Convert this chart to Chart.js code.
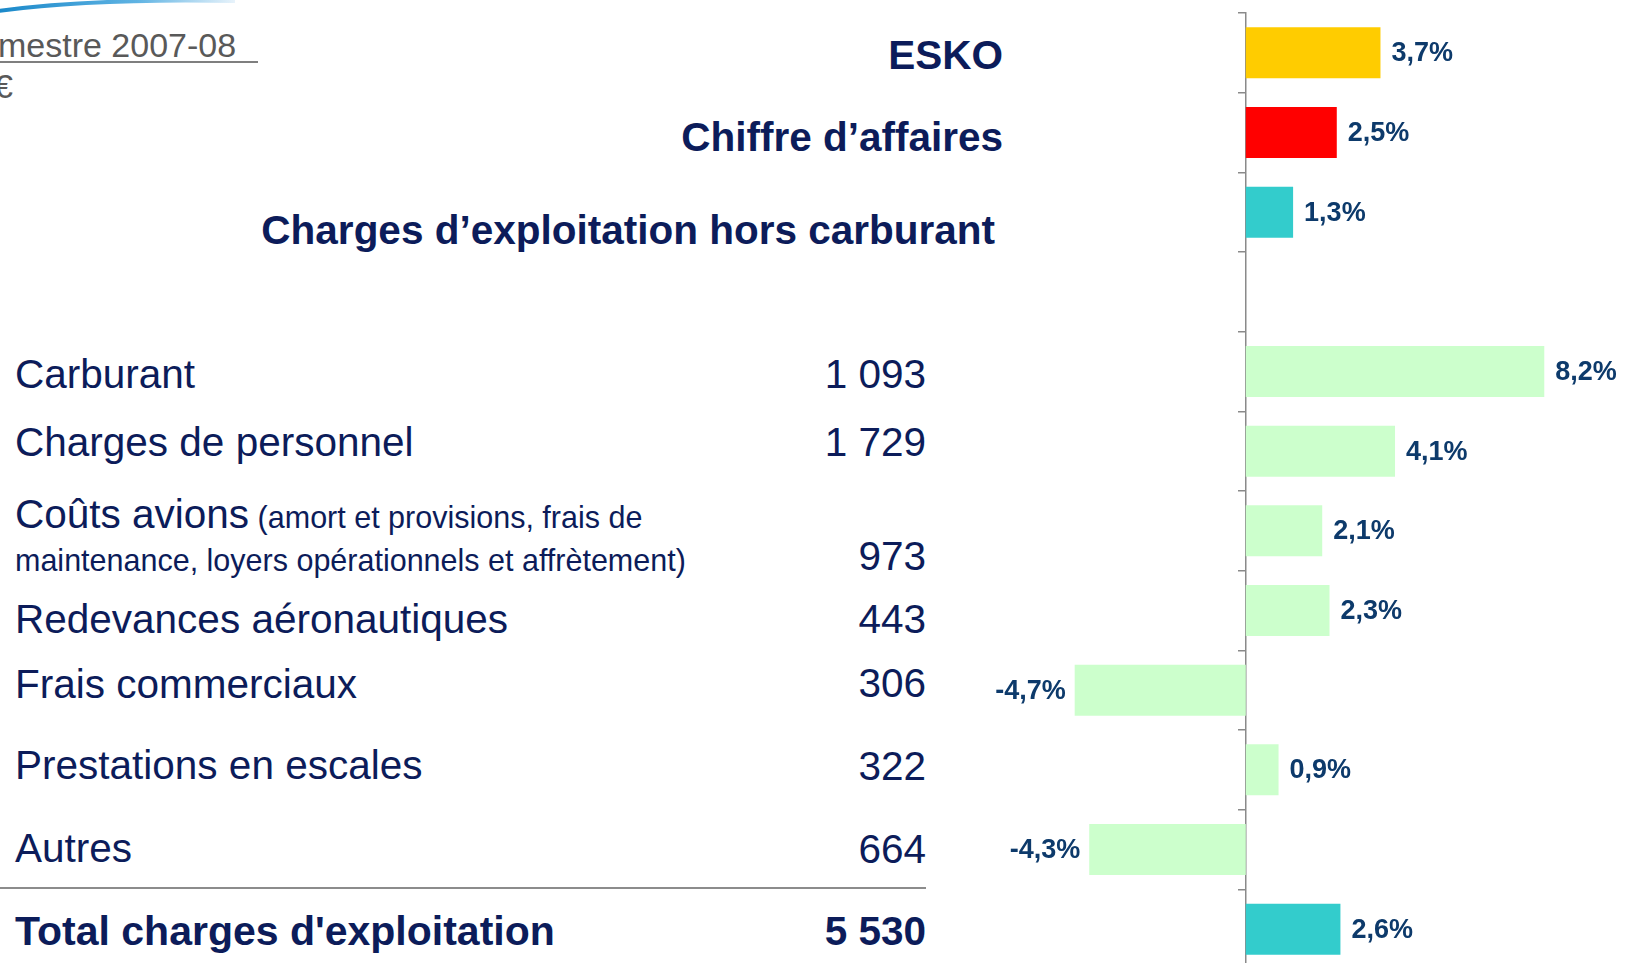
<!DOCTYPE html>
<html lang="fr">
<head>
<meta charset="utf-8">
<title>Charges d'exploitation</title>
<script src="https://cdn.jsdelivr.net/npm/chart.js@4/dist/chart.umd.min.js"></script>
<style>
  html, body { margin: 0; padding: 0; background: #fff; width: 1626px; height: 963px; overflow: hidden; }
  body { position: relative; font-family: "Liberation Sans", Arial, sans-serif; color: #0c1c5a; }
  .t { position: absolute; white-space: nowrap; font-size: 40.5px; line-height: 40px; }
  .b { font-weight: bold; }
  .r { text-align: right; }
  .small { font-size: 30.5px; }
  .grey { color: #595959; font-size: 34px; line-height: 34px; }
  #chartBox { position: absolute; left: 940px; top: 0; width: 688px; height: 970px; }
</style>
</head>
<body>

<!-- top-left decoration and period header -->
<svg style="position:absolute;left:0;top:0" width="260" height="20">
  <defs>
    <linearGradient id="sw" x1="0" x2="1" y1="0" y2="0">
      <stop offset="0" stop-color="#1686c8"/>
      <stop offset="0.6" stop-color="#5fb3e3"/>
      <stop offset="1" stop-color="#e8f3fb"/>
    </linearGradient>
  </defs>
  <path d="M -10 12 Q 90 -2 235 1" stroke="url(#sw)" stroke-width="4" fill="none"/>
</svg>
<div class="t grey" style="left:-2px; top:28px;">mestre 2007-08</div>
<div style="position:absolute; left:0; top:61px; width:258px; height:2px; background:#7f7f7f;"></div>
<div class="t grey" style="left:-6px; top:69px;">€</div>

<!-- headline rows -->
<div class="t b r" id="h0" style="right:623px; top:35px;"></div>
<div class="t b r" id="h1" style="right:623px; top:117px;"></div>
<div class="t b r" id="h2" style="right:631px; top:210px;"></div>

<!-- table rows -->
<div class="t" id="l0" style="left:15px; top:354px;"></div>
<div class="t" id="l1" style="left:15px; top:422px;"></div>
<div class="t" id="l2" style="left:15px; top:494px;"></div>
<div class="t small" id="l2b" style="left:15px; top:545px; line-height:30px;"></div>
<div class="t" id="l3" style="left:15px; top:599px;"></div>
<div class="t" id="l4" style="left:15px; top:664px;"></div>
<div class="t" id="l5" style="left:15px; top:745px;"></div>
<div class="t" id="l6" style="left:15px; top:828px;"></div>
<div class="t b" id="l7" style="left:15px; top:911px; font-size:41px;"></div>

<div class="t r" id="n0" style="right:700px; top:354px;"></div>
<div class="t r" id="n1" style="right:700px; top:422px;"></div>
<div class="t r" id="n2" style="right:700px; top:536px;"></div>
<div class="t r" id="n3" style="right:700px; top:599px;"></div>
<div class="t r" id="n4" style="right:700px; top:663px;"></div>
<div class="t r" id="n5" style="right:700px; top:746px;"></div>
<div class="t r" id="n6" style="right:700px; top:829px;"></div>
<div class="t b r" id="n7" style="right:700px; top:911px;"></div>

<div style="position:absolute; left:0; top:887px; width:926px; height:2px; background:#8c8c8c;"></div>

<div id="chartBox"><canvas id="chart" width="688" height="970"></canvas></div>

<script>
// Bar categories (top to bottom), the 4th one is the empty spacer row
const categories = [
  "ESKO",
  "Chiffre d’affaires",
  "Charges d’exploitation hors carburant",
  "",
  "Carburant",
  "Charges de personnel",
  "Coûts avions",
  "Redevances aéronautiques",
  "Frais commerciaux",
  "Prestations en escales",
  "Autres",
  "Total charges d'exploitation"
];

// Variation in %
const variations = [3.7, 2.5, 1.3, null, 8.2, 4.1, 2.1, 2.3, -4.7, 0.9, -4.3, 2.6];

// Amounts in M€ for the cost lines
const costLines = [
  "Carburant",
  "Charges de personnel",
  "Coûts avions",
  "Redevances aéronautiques",
  "Frais commerciaux",
  "Prestations en escales",
  "Autres",
  "Total charges d'exploitation"
];
const costAmounts = ["1 093", "1 729", "973", "443", "306", "322", "664", "5 530"];
const coutsAvionsDetail = ["(amort et provisions, frais de", "maintenance, loyers opérationnels et affrètement)"];

const barColors = [
  "#ffcc00", "#ff0000", "#33cccc", "#ffffff",
  "#ccffcc", "#ccffcc", "#ccffcc", "#ccffcc", "#ccffcc", "#ccffcc", "#ccffcc",
  "#33cccc"
];

// Fill in the text on the left
for (let i = 0; i < 3; i++) {
  document.getElementById("h" + i).textContent = categories[i];
}
costLines.forEach((name, i) => {
  document.getElementById("l" + i).textContent = name;
  document.getElementById("n" + i).textContent = costAmounts[i];
});
const detail = document.createElement("span");
detail.className = "small";
detail.textContent = " " + coutsAvionsDetail[0];
document.getElementById("l2").appendChild(detail);
document.getElementById("l2b").textContent = coutsAvionsDetail[1];

// Percent labels next to the bars
const valueLabels = {
  id: "valueLabels",
  afterDatasetsDraw(chart) {
    const ctx = chart.ctx;
    const meta = chart.getDatasetMeta(0);
    ctx.save();
    ctx.font = 'bold 27px "Liberation Sans", Arial, sans-serif';
    ctx.fillStyle = "#0d3a6b";
    ctx.textBaseline = "middle";
    meta.data.forEach((bar, i) => {
      const v = variations[i];
      if (v === null) return;
      const txt = v.toFixed(1).replace(".", ",") + "%";
      if (v >= 0) {
        ctx.textAlign = "left";
        ctx.fillText(txt, bar.x + 11, bar.y + 1);
      } else {
        ctx.textAlign = "right";
        ctx.fillText(txt, bar.x - 9, bar.y + 1);
      }
    });
    ctx.restore();
  }
};

new Chart(document.getElementById("chart"), {
  type: "bar",
  data: {
    labels: categories,
    datasets: [{
      data: variations,
      backgroundColor: barColors,
      borderWidth: 0,
      barPercentage: 0.64,
      categoryPercentage: 1
    }]
  },
  options: {
    indexAxis: "y",
    responsive: false,
    animation: false,
    devicePixelRatio: 1,
    layout: { padding: { top: 13, bottom: 1, left: 0, right: 0 } },
    scales: {
      x: { type: "linear", min: -8.4, max: 10.5, display: false },
      y: {
        position: { x: 0 },
        grid: {
          drawOnChartArea: false,
          drawTicks: true,
          tickLength: 7,
          color: "#8a8a8a",
          lineWidth: 1.5
        },
        border: { display: true, color: "#8a8a8a", width: 1.5 },
        ticks: { display: false }
      }
    },
    plugins: {
      legend: { display: false },
      tooltip: { enabled: false }
    }
  },
  plugins: [valueLabels]
});
</script>
</body>
</html>
